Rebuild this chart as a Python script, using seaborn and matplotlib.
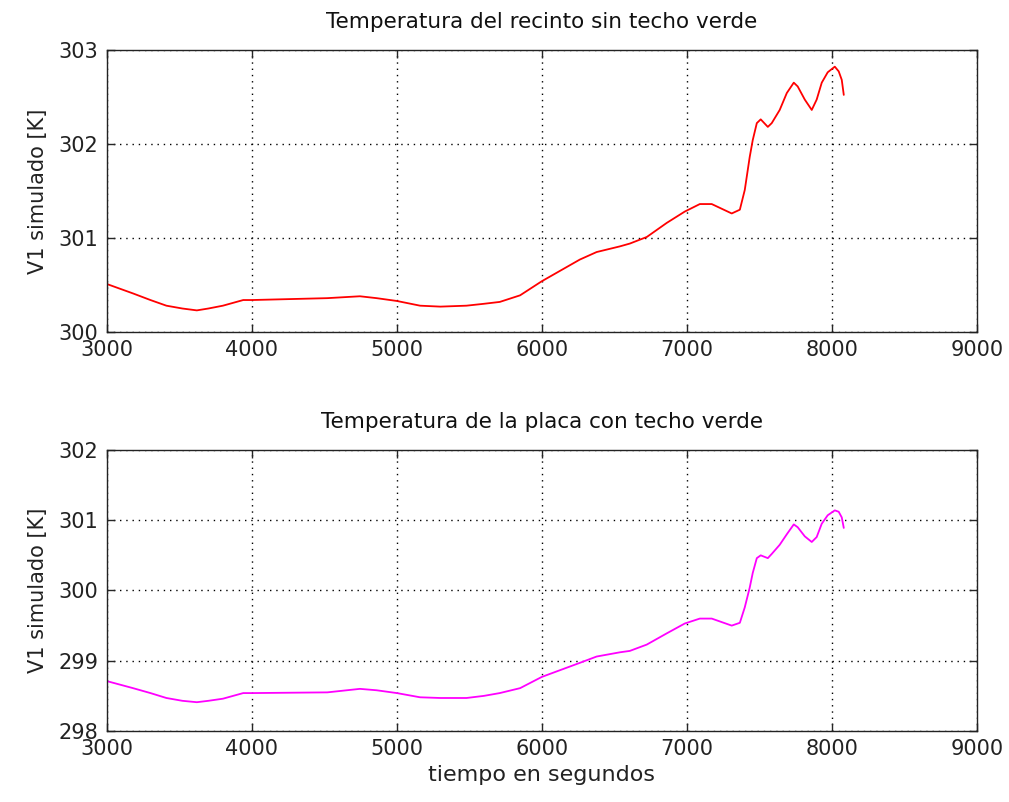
import numpy as np
import pandas as pd
import matplotlib
matplotlib.use("Agg")
import matplotlib.pyplot as plt
import seaborn as sns

# --- data ---
tiempo = [3000, 3180, 3300, 3410, 3520, 3620, 3700, 3800, 3940, 4000, 4520, 4745,
          4860, 5000, 5160, 5300, 5480, 5600, 5710, 5850, 6000, 6262, 6378, 6538,
          6607, 6724, 6862, 6986, 7090, 7172, 7310, 7366, 7400, 7434, 7455, 7483,
          7510, 7559, 7586, 7641, 7690, 7738, 7765, 7814, 7862, 7896, 7931, 7972,
          8021, 8048, 8069, 8083]
temp_sin_techo = [300.51, 300.41, 300.34, 300.28, 300.25, 300.23, 300.25, 300.28,
                  300.34, 300.34, 300.36, 300.38, 300.36, 300.33, 300.28, 300.27,
                  300.28, 300.30, 300.32, 300.39, 300.54, 300.77, 300.85, 300.91,
                  300.94, 301.01, 301.16, 301.28, 301.36, 301.36, 301.26, 301.30,
                  301.51, 301.86, 302.04, 302.22, 302.26, 302.18, 302.22, 302.36,
                  302.54, 302.65, 302.61, 302.47, 302.36, 302.47, 302.65, 302.76,
                  302.82, 302.77, 302.68, 302.52]
temp_con_techo = [298.71, 298.61, 298.54, 298.47, 298.43, 298.41, 298.43, 298.46,
                  298.54, 298.54, 298.55, 298.60, 298.58, 298.54, 298.48, 298.47,
                  298.47, 298.50, 298.54, 298.61, 298.77, 298.97, 299.06, 299.12,
                  299.14, 299.23, 299.39, 299.53, 299.60, 299.60, 299.50, 299.54,
                  299.76, 300.04, 300.25, 300.46, 300.50, 300.46, 300.52, 300.65,
                  300.80, 300.94, 300.90, 300.77, 300.69, 300.76, 300.95, 301.07,
                  301.14, 301.12, 301.04, 300.89]

x_ticks = [3000, 4000, 5000, 6000, 7000, 8000, 9000]
y_ticks_top = [300, 301, 302, 303]
y_ticks_bottom = [298, 299, 300, 301, 302]

titulo_top = "Temperatura del recinto sin techo verde"
titulo_bottom = "Temperatura de la placa con techo verde"
ylabel = "V1 simulado [K]"
xlabel = "tiempo en segundos"

sns.set_style("white")
plt.rcParams['font.family'] = ['DejaVu Sans']

fig = plt.figure(figsize=(10.09, 8.02), dpi=100)
ax1 = fig.add_axes([0.106, 0.586, 0.862, 0.352])
ax2 = fig.add_axes([0.106, 0.0885, 0.862, 0.3505])

df = pd.DataFrame({"t": tiempo, "a": temp_sin_techo, "b": temp_con_techo})

sns.lineplot(data=df, x="t", y="a", ax=ax1, color="#ff0000", linewidth=1.3)
sns.lineplot(data=df, x="t", y="b", ax=ax2, color="#ff00ff", linewidth=1.3)

for ax, yt, title in [(ax1, y_ticks_top, titulo_top), (ax2, y_ticks_bottom, titulo_bottom)]:
    ax.set_xlim(x_ticks[0], x_ticks[-1])
    ax.set_ylim(yt[0], yt[-1])
    ax.set_xticks(x_ticks)
    ax.set_yticks(yt)
    ax.set_xticklabels([str(v) for v in x_ticks], fontsize=15, color="#222222")
    ax.set_yticklabels([str(v) for v in yt], fontsize=15, color="#222222")
    ax.grid(True, linestyle=(0, (1, 3.5)), color="black", linewidth=1.0)
    ax.tick_params(direction="in", length=6, width=1.0, top=True, right=True,
                   bottom=True, left=True, pad=6)
    for s in ax.spines.values():
        s.set_color("#222222")
        s.set_linewidth(1.0)
    ax.set_title(title, fontsize=15.5, pad=16, color="#111111")
    ax.set_ylabel(ylabel, fontsize=15, color="#222222", labelpad=8)
    ax.set_xlabel("")

ax2.set_xlabel(xlabel, fontsize=16, color="#222222", labelpad=4)

fig.savefig("out.png", dpi=100, facecolor="white")
